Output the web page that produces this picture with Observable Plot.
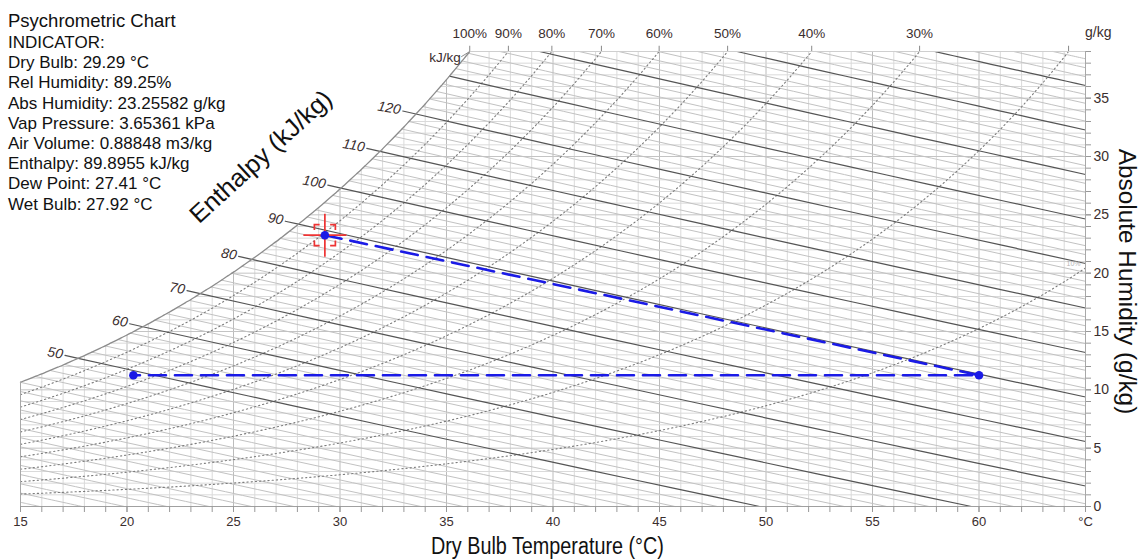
<!DOCTYPE html>
<html>
<head>
<meta charset="utf-8">
<script src="https://cdn.jsdelivr.net/npm/d3@7"></script>
<script src="https://cdn.jsdelivr.net/npm/@observablehq/plot@0.6"></script>
<style>
  html, body { margin: 0; padding: 0; background: #fff; }
  #wrap { position: relative; width: 1142px; height: 560px; font-family: "Liberation Sans", Arial, sans-serif; color: #111; }
  #wrap svg { position: absolute; left: 0; top: 0; }
  .ov { position: absolute; white-space: nowrap; }
  #title { left: 8px; top: 9px; font-size: 18.5px; line-height: 24px; }
  #info { left: 8px; top: 33px; font-size: 17px; line-height: 20.2px; }
  .axt { font-size: 23px; transform-origin: center center; }
</style>
</head>
<body>
<div id="wrap">
  <div id="chart"></div>
  <div class="ov" id="title"></div>
  <div class="ov" id="info"></div>
  <div class="ov axt" id="xtitle"></div>
  <div class="ov axt" id="ytitle"></div>
  <div class="ov axt" id="htitle"></div>
  <div class="ov" id="gkg" style="font-size:14px;color:#3a2e2e;"></div>
</div>
<script>
// ---------- data ----------
const chartTitle = "Psychrometric Chart";
const indicatorLines = [
  "INDICATOR:",
  "Dry Bulb: 29.29 °C",
  "Rel Humidity: 89.25%",
  "Abs Humidity: 23.25582 g/kg",
  "Vap Pressure: 3.65361 kPa",
  "Air Volume: 0.88848 m3/kg",
  "Enthalpy: 89.8955 kJ/kg",
  "Dew Point: 27.41 °C",
  "Wet Bulb: 27.92 °C"
];
const xTitle = "Dry Bulb Temperature (°C)";
const yTitle = "Absolute Humidity (g/kg)";
const hTitle = "Enthalpy (kJ/kg)";

// saturation vapour pressure of water (kPa) at each dry-bulb temperature
const satTemps = [15,16,17,18,19,20,21,22,23,24,25,26,27,28,29,30,31,32,33,34,35,36,37,38,39,40,
                  41,42,43,44,45,46,47,48,49,50,51,52,53,54,55,56,57,58,59,60,61,62,63,64,65];
const satPressure = [1.7058,1.8188,1.9384,2.0647,2.1983,2.3393,2.4882,2.6453,2.8111,2.9858,
                     3.1699,3.3639,3.5681,3.7831,4.0092,4.2470,4.4969,4.7596,5.0354,5.3251,
                     5.6290,5.9479,6.2823,6.6328,7.0002,7.3849,7.7878,8.2096,8.6508,9.1124,
                     9.5950,10.0994,10.6264,11.1770,11.7519,12.3520,12.9783,13.6317,14.3132,15.0237,
                     15.7642,16.5358,17.3396,18.1765,19.0477,19.9543,20.8975,21.8784,22.8983,23.9583,25.0598];
const pressureKPa = 101.325;

const rhLevels = [0.1,0.2,0.3,0.4,0.5,0.6,0.7,0.8,0.9];
const rhTopLevels = [1,0.9,0.8,0.7,0.6,0.5,0.4,0.3];
const rhTopLabels = ["100%","90%","80%","70%","60%","50%","40%","30%"];
const rhTickLevels = [1,0.9,0.8,0.7,0.6,0.5,0.4,0.3,0.2];

const enthalpyMinor = [16,18,20,22,24,26,28,30,32,34,36,38,40,42,44,46,48,52,54,56,58,62,64,66,68,72,74,76,78,
                       82,84,86,88,92,94,96,98,102,104,106,108,112,114,116,118,122,124,126,128,
                       132,134,136,138,142,144,146,148,152,154,156,158,162,164,166];
const enthalpyMajor = [50,60,70,80,90,100,110,120,130,140,150,160];
const enthalpyLabelled = [50,60,70,80,90,100,110,120];

const tempGrid = satTemps;
const tempLabelTicks = [15,20,25,30,35,40,45,50,55,60,65];
const humGrid = [1,2,3,4,5,6,7,8,9,10,11,12,13,14,15,16,17,18,19,20,21,22,23,24,25,26,27,28,29,30,31,32,33,34,35,36,37,38];
const humTicksAll = [0,1,2,3,4,5,6,7,8,9,10,11,12,13,14,15,16,17,18,19,20,21,22,23,24,25,26,27,28,29,30,31,32,33,34,35,36,37,38,39];
const humLabelTicks = [0,5,10,15,20,25,30,35];

// process path: indicator state, heated state, cooled state
const processTemp = [29.29, 60, 20.3];
const processHum = [23.25582, 11.25, 11.25];

// ---------- chart geometry ----------
const T_MIN = 15, T_MAX = 65, W_TOP = 39;

function pws(t) {
  const i = Math.min(Math.max(Math.floor(t - satTemps[0]), 0), satTemps.length - 2);
  const f = t - satTemps[i];
  return satPressure[i] + f * (satPressure[i + 1] - satPressure[i]);
}
const wsat = t => 621.98 * pws(t) / (pressureKPa - pws(t));
const hOf = (t, w) => 1.006 * t + w / 1000 * (2501 + 1.86 * t);
const wOfH = (h, t) => (h - 1.006 * t) * 1000 / (2501 + 1.86 * t);
function solve(f, a, b) {
  let fa = f(a);
  for (let k = 0; k < 60; k++) {
    const m = (a + b) / 2, fm = f(m);
    if ((fm < 0) === (fa < 0)) { a = m; fa = fm; } else b = m;
  }
  return (a + b) / 2;
}
const tTop = solve(t => wsat(t) - W_TOP, T_MIN, T_MAX);
const rhEnd = phi => phi * wsat(T_MAX) > W_TOP ? solve(t => phi * wsat(t) - W_TOP, T_MIN, T_MAX) : T_MAX;

// relative humidity curves (the 100 % curve is the saturation line)
function rhRows(phi) {
  const end = rhEnd(phi), rows = [];
  for (let t = T_MIN; t < end; t += 0.25) rows.push({phi, t, w: phi * wsat(t)});
  rows.push({phi, t: end, w: phi * wsat(end)});
  return rows;
}
const satRows = rhRows(1);
const rhData = rhLevels.flatMap(rhRows);

// enthalpy lines, from the saturation line (or chart edge) to the bottom/right edge
function enthalpyRows(h, ext) {
  let t0;
  if (hOf(T_MIN, wsat(T_MIN)) > h) t0 = T_MIN;
  else if (hOf(tTop, W_TOP) < h) t0 = solve(t => hOf(t, W_TOP) - h, T_MIN, T_MAX);
  else t0 = solve(t => hOf(t, wsat(t)) - h, T_MIN, tTop);
  const t1 = Math.min(h / 1.006, T_MAX);
  const rows = [];
  if (ext) rows.push({h, t: t0 - ext, w: wOfH(h, t0 - ext)});
  for (let k = 0; k <= 16; k++) {
    const t = t0 + (t1 - t0) * k / 16;
    rows.push({h, t, w: Math.max(0, wOfH(h, t))});
  }
  return rows;
}
const EXT = 0.62;
const hMinorRows = enthalpyMinor.flatMap(h => enthalpyRows(h, 0));
const hMajorRows = enthalpyMajor.flatMap(h => enthalpyRows(h, enthalpyLabelled.includes(h) ? EXT : 0));
const hLabelRows = enthalpyLabelled.map(h => enthalpyRows(h, EXT)[0]);

// grid
const vGrid = tempGrid.map(t => ({t, w0: 0, w1: Math.min(wsat(t), W_TOP), major: t % 5 === 0}));
const hGrid = humGrid.map(w => ({w, t0: w < wsat(T_MIN) ? T_MIN : solve(t => wsat(t) - w, T_MIN, T_MAX), t1: T_MAX, major: w % 5 === 0}));

const rhLabelRows = rhTopLevels.map((phi, i) => ({t: rhEnd(phi), w: W_TOP, label: rhTopLabels[i]}));
const rhTickRows = rhTickLevels.map(phi => ({t: rhEnd(phi), w0: W_TOP, w1: W_TOP + 0.45}));
const tenPct = [{t: T_MAX, w: 0.1 * wsat(T_MAX), label: "10%"}];

const process = processTemp.map((t, i) => ({t, w: processHum[i]}));

// red target marker drawn round the indicator state
const crosshair = {
  draw(ctx, size) {
    const r = Math.sqrt(size / Math.PI);
    const arm = 2.05 * r, c = 0.5 * r;
    ctx.moveTo(-arm, 0); ctx.lineTo(arm, 0);
    ctx.moveTo(0, -arm); ctx.lineTo(0, arm);
    for (const [sx, sy] of [[-1, -1], [1, -1], [1, 1], [-1, 1]]) {
      ctx.moveTo(sx * r, sy * (r - c)); ctx.lineTo(sx * r, sy * r); ctx.lineTo(sx * (r - c), sy * r);
    }
  }
};

const labelColor = "#3a2e2e";
const chart = Plot.plot({
  width: 1142,
  height: 560,
  marginLeft: 20,
  marginRight: 57,
  marginTop: 51,
  marginBottom: 54,
  style: {fontFamily: "'Liberation Sans', Arial, sans-serif", fontSize: "13px", background: "#fff", overflow: "visible"},
  x: {domain: [T_MIN, T_MAX], axis: null},
  y: {domain: [0, W_TOP], axis: null},
  marks: [
    // grid
    Plot.ruleX(vGrid.filter(d => !d.major), {x: "t", y1: "w0", y2: "w1", stroke: "#dadada", strokeWidth: 1}),
    Plot.ruleX(vGrid.filter(d => d.major), {x: "t", y1: "w0", y2: "w1", stroke: "#bcbcbc", strokeWidth: 1}),
    Plot.ruleY(hGrid.filter(d => !d.major), {y: "w", x1: "t0", x2: "t1", stroke: "#dadada", strokeWidth: 1}),
    Plot.ruleY(hGrid.filter(d => d.major), {y: "w", x1: "t0", x2: "t1", stroke: "#c4c4c4", strokeWidth: 1}),
    // enthalpy lines
    Plot.line(hMinorRows, {x: "t", y: "w", z: "h", stroke: "#c2c2c2", strokeWidth: 1}),
    // relative humidity curves
    Plot.line(rhData, {x: "t", y: "w", z: "phi", stroke: "#7c7c7c", strokeWidth: 1.1, strokeDasharray: "1.3,2.9", curve: "monotone-x"}),
    Plot.line(hMajorRows, {x: "t", y: "w", z: "h", stroke: "#555", strokeWidth: 1.2}),
    // saturation line and frame
    Plot.line(satRows, {x: "t", y: "w", stroke: "#8c8c8c", strokeWidth: 1.3, curve: "monotone-x"}),
    Plot.ruleX([T_MIN], {y1: 0, y2: wsat(T_MIN), stroke: "#a8a8a8"}),
    Plot.ruleY([W_TOP], {x1: tTop, x2: T_MAX, stroke: "#cfcfcf"}),
    Plot.ruleY([0], {x1: T_MIN, x2: T_MAX, stroke: "#a0a0a0"}),
    Plot.ruleX([T_MAX], {y1: 0, y2: W_TOP, stroke: "#a8a8a8"}),
    // axes
    Plot.axisX({ticks: tempGrid, tickSize: 6, tickFormat: () => "", stroke: "#999"}),
    Plot.axisX({ticks: tempLabelTicks, tickSize: 6, tickPadding: 4, fontSize: 13, fill: labelColor, stroke: "#999",
                tickFormat: d => d === T_MAX ? "°C" : String(d)}),
    Plot.axisY({anchor: "right", ticks: humTicksAll, tickSize: 5, tickFormat: () => "", stroke: "#999"}),
    Plot.axisY({anchor: "right", ticks: humLabelTicks, tickSize: 5, tickPadding: 3, fontSize: 14, fill: labelColor, stroke: "#999"}),
    // relative humidity labels along the top edge
    Plot.ruleX(rhTickRows, {x: "t", y1: "w0", y2: "w1", stroke: "#888"}),
    Plot.text(rhLabelRows, {x: "t", y: "w", text: "label", dy: -18, fontSize: 13.5, fill: labelColor}),
    Plot.text(tenPct, {x: "t", y: "w", text: "label", textAnchor: "end", dx: -5, dy: -4, fontSize: 7, fill: "#b5b5b5"}),
    // enthalpy scale labels
    Plot.text(hLabelRows, {x: "t", y: "w", text: d => String(d.h), textAnchor: "end", dx: -2, dy: -1, rotate: 10, fontSize: 14, fontStyle: "italic", fill: labelColor}),
    Plot.link([{t: tTop, w: W_TOP}], {x1: "t", y1: "w", x2: d => d.t - 0.4, y2: d => d.w - 0.45, stroke: "#8c8c8c"}),
    Plot.text([{t: tTop, w: W_TOP}], {x: "t", y: "w", text: () => "kJ/kg", textAnchor: "end", dx: -9, dy: 6, fontSize: 13.5, fill: labelColor}),
    // process path
    Plot.line(process, {x: "t", y: "w", stroke: "#1a1ae6", strokeWidth: 2.6, strokeDasharray: "17,9"}),
    Plot.dot(process.slice(0, 1), {x: "t", y: "w", r: 10.5, symbol: crosshair, stroke: "#ee3333", fill: "none", strokeWidth: 1.7}),
    Plot.dot(process, {x: "t", y: "w", r: 4.3, fill: "#1a1ae6", stroke: "none"})
  ]
});
document.getElementById("chart").appendChild(chart);

// text blocks
document.getElementById("title").textContent = chartTitle;
document.getElementById("info").innerHTML = indicatorLines.map(s => `<div>${s}</div>`).join("");
function place(id, text, cx, cy, rot, sx, fs) {
  const el = document.getElementById(id);
  el.textContent = text;
  if (fs) el.style.fontSize = fs + "px";
  const r = el.getBoundingClientRect();
  el.style.left = (cx - r.width / 2) + "px";
  el.style.top = (cy - r.height / 2) + "px";
  el.style.transform = `rotate(${rot}deg) scaleX(${sx})`;
}
place("xtitle", xTitle, 547, 546, 0, 0.86);
place("ytitle", yTitle, 1126, 281, 90, 1.06);
place("htitle", hTitle, 261, 156, -42.5, 1.02, 25);
const g = document.getElementById("gkg");
g.textContent = "g/kg";
g.style.left = "1085px"; g.style.top = "24px";
</script>
</body>
</html>
